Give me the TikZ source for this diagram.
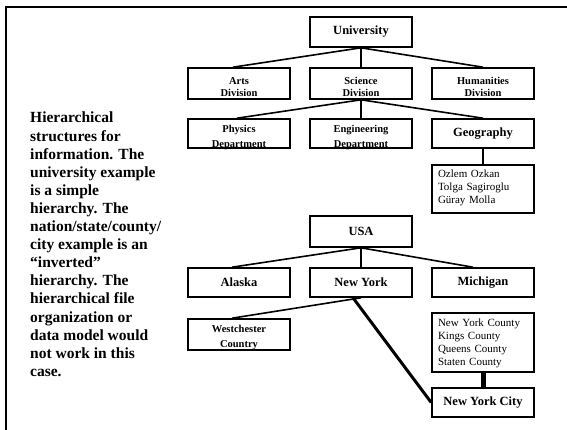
\documentclass[tikz,border=0pt]{standalone}
\usepackage{fontspec}
\setmainfont{Liberation Serif}
\newcommand{\twoline}[4]{\raisebox{#1}[0pt][0pt]{\begin{tabular}[c]{@{}c@{}}#3\\[#2]#4\end{tabular}}}
\begin{document}
\begin{tikzpicture}[x=1pt,y=-1pt,
  box/.style={draw,line width=1.6pt,inner sep=0pt,minimum width=102pt,align=center},
  big/.style={font=\bfseries\fontsize{12.5}{14}\selectfont},
  small/.style={font=\bfseries\fontsize{10.5}{12}\selectfont},
  list/.style={draw,line width=1.6pt,inner xsep=6pt,inner ysep=0pt,text width=90pt,align=left,
    font=\fontsize{11}{13}\selectfont},
  link/.style={line width=1.6pt},
  frame/.style={line width=2pt}]
\useasboundingbox (0,0) rectangle (567,430);
% frame
\coordinate (ftl) at (6,7);
\coordinate (ftr) at (567,7);
\coordinate (fbl) at (6,430);
\draw[frame] (fbl) -- (ftl) -- (ftr);
% left text
\node[anchor=north west,inner sep=0pt,align=left,
  font=\bfseries\fontsize{15.5}{18.1}\selectfont] (desc) at (30,112)
  {Hierarchical\\structures for\\information. The\\university example\\is a simple\\hierarchy. The\\nation/state/county/\\city example is an\\“inverted”\\hierarchy. The\\hierarchical file\\organization or\\data model would\\not work in this\\case.};
% university tree
\node[box,small,minimum height=30pt,font=\bfseries\fontsize{12.5}{14}\selectfont] (uni) at (361,32) {University};
\node[box,small,minimum height=31pt] (arts) at (239,83.5) {\twoline{-7.5pt}{0pt}{Arts}{Division}};
\node[box,small,minimum height=31pt] (sci) at (361,83.5) {\twoline{-7.5pt}{0pt}{Science}{Division}};
\node[box,small,minimum height=31pt] (hum) at (483,83.5) {\twoline{-7.5pt}{0pt}{Humanities}{Division}};
\node[box,small,minimum height=29pt] (phy) at (239,133.5) {\twoline{-6.5pt}{3pt}{Physics}{Department}};
\node[box,small,minimum height=29pt] (eng) at (361,133.5) {\twoline{-6.5pt}{3pt}{Engineering}{Department}};
\node[box,big,minimum height=29pt] (geo) at (483,133.5) {Geography};
\node[list,minimum height=48pt] (names) at (483,189) {\raisebox{-2pt}[0pt][0pt]{\parbox[c]{90pt}{Ozlem Ozkan\\Tolga Sagiroglu\\Güray Molla}}};
\draw[link] (uni.south) -- ([xshift=-6pt]arts.north);
\draw[link] (uni.south) -- (sci.north);
\draw[link] (uni.south) -- (hum.north);
\draw[link] (sci.south) -- ([xshift=-2pt]phy.north);
\draw[link] (sci.south) -- (eng.north);
\draw[link] (sci.south) -- (geo.north);
\draw[link] (geo.south) -- (names.north);
% USA tree
\node[box,big,minimum height=31pt] (usa) at (361,231.5) {USA};
\node[box,big,minimum height=29pt] (ak) at (239,282.5) {Alaska};
\node[box,big,minimum height=29pt] (ny) at (361,282.5) {New York};
\node[box,big,minimum height=29pt] (mi) at (483,282.5) {Michigan};
\node[box,small,minimum height=31pt] (wc) at (239,334.5) {\twoline{-5.5pt}{3pt}{Westchester}{Country}};
\node[list,minimum height=59pt] (cty) at (483,342.5) {\raisebox{-4pt}[0pt][0pt]{\parbox[c]{90pt}{New York County\\Kings County\\Queens County\\Staten County}}};
\node[box,big,minimum height=29pt] (nyc) at (483,402.5) {New York City};
\draw[link] (usa.south) -- ([xshift=-7pt]ak.north);
\draw[link] (usa.south) -- (ny.north);
\draw[link] (usa.south) -- ([xshift=-10pt]mi.north);
\draw[link] (ny.south) -- ([xshift=-7pt]wc.north);
\draw[line width=3pt] ([xshift=-8pt]ny.south) -- (nyc.west);
\draw[line width=5pt] (cty.south) -- (nyc.north);
\end{tikzpicture}
\end{document}
